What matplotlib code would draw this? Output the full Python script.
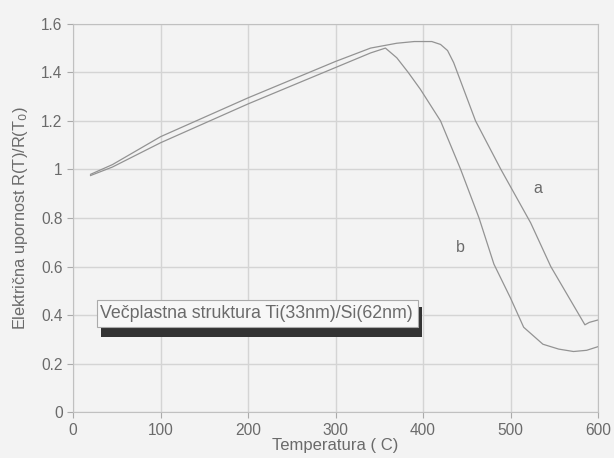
import matplotlib.pyplot as plt
from matplotlib.patches import Rectangle

plt.rcParams['font.family'] = ['Liberation Sans', 'DejaVu Sans']

# curve a
temp_a = [20, 45, 100, 150, 200, 250, 300, 340, 370, 390, 410, 420, 428, 435,
          460, 489, 523, 546, 585, 590, 600]
res_a = [0.98, 1.02, 1.135, 1.215, 1.295, 1.37, 1.445, 1.50, 1.52, 1.527, 1.527,
         1.515, 1.49, 1.44, 1.20, 1.00, 0.78, 0.60, 0.36, 0.37, 0.38]

# curve b
temp_b = [20, 45, 100, 150, 200, 250, 300, 340, 357, 370, 383, 397, 420, 443,
          464, 481, 500, 515, 537, 555, 572, 587, 600]
res_b = [0.975, 1.01, 1.11, 1.19, 1.27, 1.345, 1.42, 1.48, 1.50, 1.46, 1.40,
         1.33, 1.20, 1.00, 0.80, 0.61, 0.47, 0.35, 0.28, 0.26, 0.25, 0.255, 0.27]

xticks = [0, 100, 200, 300, 400, 500, 600]
yticks = [0, 0.2, 0.4, 0.6, 0.8, 1, 1.2, 1.4, 1.6]
ytick_labels = ['0', '0.2', '0.4', '0.6', '0.8', '1', '1.2', '1.4', '1.6']

bg = '#f3f3f3'
txt = '#6a6a6a'
fig = plt.figure(figsize=(6.14, 4.58), dpi=100, facecolor=bg)
ax = fig.add_axes([0.119, 0.1, 0.855, 0.848], facecolor=bg)

ax.plot(temp_a, res_a, color='#939393', lw=0.9)
ax.plot(temp_b, res_b, color='#939393', lw=0.9)

ax.set_xlim(0, 600)
ax.set_ylim(0, 1.6)
ax.set_xticks(xticks)
ax.set_yticks(yticks)
ax.set_yticklabels(ytick_labels)
ax.grid(color='#d4d4d4', lw=1.0)
for s in ax.spines.values():
    s.set_color('#c0c0c0')
ax.tick_params(colors='#aaaaaa', labelcolor=txt, labelsize=11.2, length=4)

ax.set_xlabel('Temperatura ( C)', color=txt, fontsize=12, labelpad=0)
ax.set_ylabel('Električna upornost R(T)/R(T$_0$)', color=txt, fontsize=11.8, labelpad=8)

ax.text(531, 0.92, 'a', color=txt, fontsize=11.5, ha='center', va='center')
ax.text(443, 0.68, 'b', color=txt, fontsize=11.5, ha='center', va='center')

# text box with shadow
ax.add_patch(Rectangle((0.054, 0.193), 0.611, 0.077, transform=ax.transAxes,
                       facecolor='#333333', edgecolor='none', zorder=4))
ax.add_patch(Rectangle((0.046, 0.219), 0.611, 0.07, transform=ax.transAxes,
                       facecolor='#f7f7f7', edgecolor='#aaaaaa', lw=0.8, zorder=5))
ax.text(0.051, 0.254, 'Večplastna struktura Ti(33nm)/Si(62nm)', transform=ax.transAxes,
        color=txt, fontsize=12.8, va='center', ha='left', zorder=6)

fig.savefig('out.png', dpi=100, facecolor=bg)
